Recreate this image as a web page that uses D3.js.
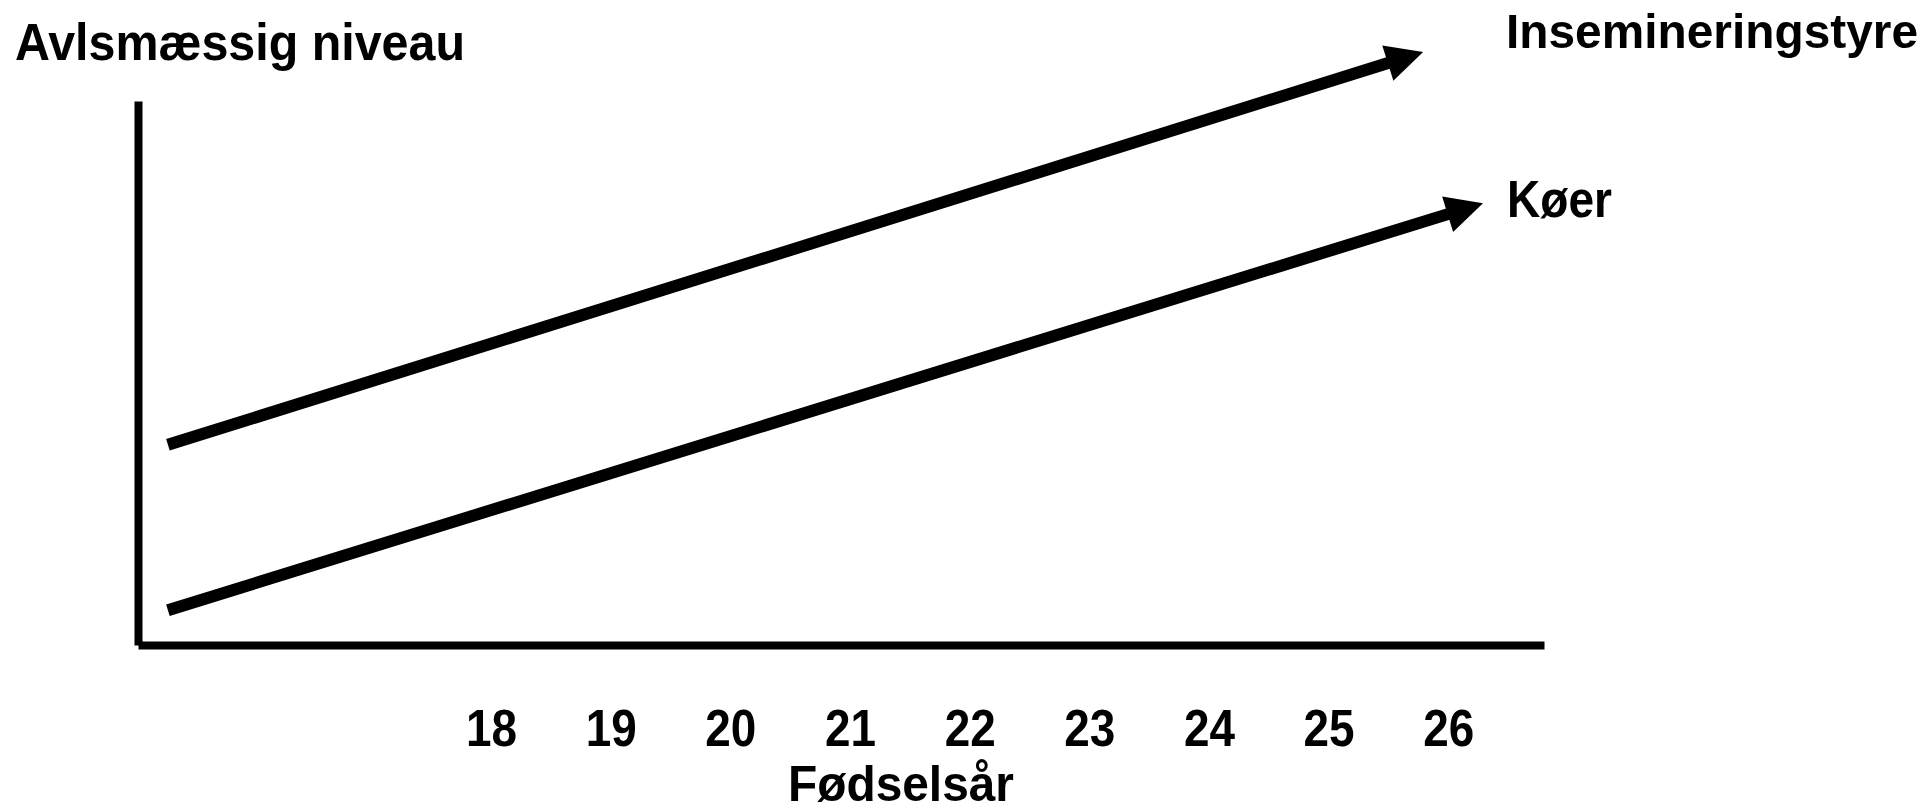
<!DOCTYPE html>
<html>
<head>
<meta charset="utf-8">
<script src="https://cdn.jsdelivr.net/npm/d3@7"></script>
<style>
  html, body { margin: 0; padding: 0; background: #ffffff; }
  svg { display: block; }
  text { font-family: "Liberation Sans", Arial, sans-serif; font-weight: bold; fill: #000; }
</style>
</head>
<body>
<svg id="chart" width="1931" height="812"></svg>
<script>
// ---- data ----
const years = [18, 19, 20, 21, 22, 23, 24, 25, 26];
const yearLabels = ["18", "19", "20", "21", "22", "23", "24", "25", "26"];
const seriesNames = ["Insemineringstyre", "Køer"];
// each trend: [start, arrow tip] as [birth year, genetic level]
const insemYears = [15.30, 25.79];
const insemLevels = [36.8, 109.0];
const koerYears = [15.30, 26.29];
const koerLevels = [6.4, 81.2];
const xDomain = [15.05, 26.8];
const yDomain = [0, 100];
const yTitle = "Avlsmæssig niveau";
const xTitle = "Fødselsår";

// ---- layout ----
const svg = d3.select("#chart");
const x = d3.scaleLinear().domain(xDomain).range([138, 1544]);
const y = d3.scaleLinear().domain(yDomain).range([645, 101]);
const FONT = '"Liberation Sans", Arial, sans-serif';

// x axis
const xAxis = d3.axisBottom(x).tickValues(years)
  .tickFormat((d, i) => yearLabels[i]).tickSize(0).tickSizeOuter(0).tickPadding(65);
const gx = svg.append("g").attr("transform", `translate(0,${y(0)})`).call(xAxis);
gx.select(".domain").attr("stroke", "#000").attr("stroke-width", 8);
gx.selectAll("text").attr("font-size", 51).attr("fill", "#000")
  .attr("textLength", 51).attr("lengthAdjust", "spacingAndGlyphs")
  .style("font-family", FONT).style("font-weight", "bold");

// y axis
const yAxis = d3.axisLeft(y).tickValues([]).tickSize(0).tickSizeOuter(0);
const gy = svg.append("g").attr("transform", `translate(${x(xDomain[0])},0)`).call(yAxis);
gy.select(".domain").attr("stroke", "#000").attr("stroke-width", 8);

// trend arrows
const headLen = 37, headHalf = 18.5, shaftW = 12;
function drawArrow(xs, ys) {
  const x0 = x(xs[0]), y0 = y(ys[0]), x1 = x(xs[1]), y1 = y(ys[1]);
  const dx = x1 - x0, dy = y1 - y0, L = Math.hypot(dx, dy);
  const ux = dx / L, uy = dy / L, px = -uy, py = ux;
  const bx = x1 - ux * headLen, by = y1 - uy * headLen;
  svg.append("path")
    .attr("d", d3.line()([[x0, y0], [bx + ux * 2, by + uy * 2]]))
    .attr("stroke", "#000").attr("stroke-width", shaftW).attr("fill", "none");
  svg.append("path")
    .attr("d", d3.line()([[x1, y1], [bx + px * headHalf, by + py * headHalf], [bx - px * headHalf, by - py * headHalf]]) + "Z")
    .attr("fill", "#000");
}
drawArrow(insemYears, insemLevels);
drawArrow(koerYears, koerLevels);

// labels
svg.append("text").attr("x", 15).attr("y", 60).attr("font-size", 52)
  .attr("textLength", 450).attr("lengthAdjust", "spacingAndGlyphs").text(yTitle);
svg.append("text").attr("x", 788).attr("y", 801).attr("font-size", 50)
  .attr("textLength", 226).attr("lengthAdjust", "spacingAndGlyphs").text(xTitle);
svg.append("text").attr("x", 1506).attr("y", 48).attr("font-size", 49)
  .attr("textLength", 412).attr("lengthAdjust", "spacingAndGlyphs").text(seriesNames[0]);
svg.append("text").attr("x", 1507).attr("y", 217).attr("font-size", 52)
  .attr("textLength", 105).attr("lengthAdjust", "spacingAndGlyphs").text(seriesNames[1]);
</script>
</body>
</html>
